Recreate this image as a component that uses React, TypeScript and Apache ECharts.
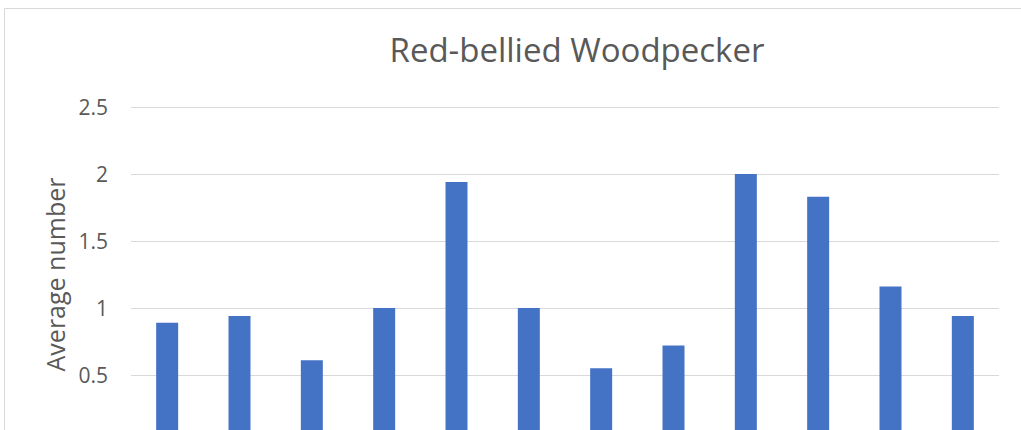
import React, { useEffect, useRef } from "react";
import * as echarts from "echarts";

const titleText = "Red-bellied Woodpecker";
const yAxisName = "Average number";
const categories = ["Jan", "Feb", "Mar", "Apr", "May", "Jun", "Jul", "Aug", "Sep", "Oct", "Nov", "Dec"];
const averages = [0.89, 0.94, 0.61, 1.0, 1.94, 1.0, 0.55, 0.72, 2.0, 1.83, 1.16, 0.94];

const FONT = "'Open Sans', 'Noto Sans', sans-serif";

export default function App() {
  const ref = useRef<HTMLDivElement>(null);
  useEffect(() => {
    if (!ref.current) return;
    const chart = echarts.init(ref.current, undefined, { renderer: "svg" });
    chart.setOption({
      animation: false,
      backgroundColor: "#ffffff",
      title: {
        text: titleText,
        left: 572,
        top: 28,
        textAlign: "center",
        textStyle: { fontFamily: FONT, fontSize: 33, fontWeight: "normal", color: "#595959" },
      },
      graphic: [
        {
          type: "rect",
          shape: { x: 4.5, y: 8.5, width: 1200, height: 700 },
          style: { fill: "none", stroke: "#D9D9D9", lineWidth: 1 },
          silent: true,
          z: -1,
        },
      ],
      grid: { left: 131, top: 107, width: 868, height: 335 },
      xAxis: {
        type: "category",
        data: categories,
        axisLine: { lineStyle: { color: "#D9D9D9" } },
        axisTick: { show: false },
        axisLabel: { show: false },
      },
      yAxis: {
        type: "value",
        min: 0,
        max: 2.5,
        interval: 0.5,
        name: yAxisName,
        nameLocation: "middle",
        nameGap: 62,
        nameTextStyle: { fontFamily: FONT, fontSize: 25, color: "#595959" },
        axisLine: { show: false },
        axisTick: { show: false },
        axisLabel: { fontFamily: FONT, fontSize: 21, color: "#595959", margin: 23, showMinLabel: false },
        splitLine: { lineStyle: { color: "#D9D9D9", width: 1 } },
      },
      series: [
        {
          type: "bar",
          data: averages,
          barWidth: 22,
          itemStyle: { color: "#4472C4" },
        },
      ],
    });
    return () => chart.dispose();
  }, []);
  return (
    <div
      ref={ref}
      style={{ position: "absolute", left: 0, top: 0, width: 1021, height: 500 }}
    />
  );
}
